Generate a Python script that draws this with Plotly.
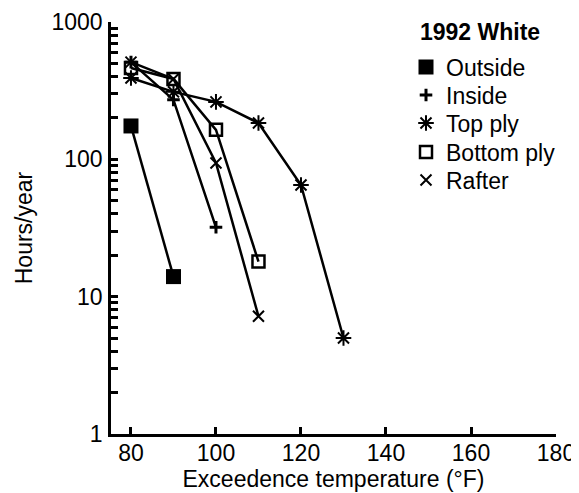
import plotly.graph_objects as go

# ---- data ----
temps_outside = [80, 90]
hours_outside = [175, 14]

temps_inside = [80, 90, 100]
hours_inside = [510, 271, 32]

temps_top = [80, 90, 100, 110, 120, 130]
hours_top = [391, 310, 262, 184, 65, 5]

temps_bottom = [80, 90, 100, 110]
hours_bottom = [463, 385, 164, 18]

temps_rafter = [80, 90, 100, 110]
hours_rafter = [510, 385, 94, 7.2]

series_names = ["Outside", "Inside", "Top ply", "Bottom ply", "Rafter"]
legend_title = "1992 White"
x_ticks = [80, 100, 120, 140, 160, 180]
y_decades = [1, 10, 100, 1000]

FONT = "Liberation Sans, Arial, sans-serif"
FS = 23

styles = {
    "Outside": dict(symbol="square", size=15, color="black", line=dict(width=0)),
    "Inside": dict(symbol="cross-thin-open", size=9, color="black", line=dict(width=3, color="black")),
    "Top ply": dict(symbol="asterisk-open", size=13, color="black", line=dict(width=2, color="black")),
    "Bottom ply": dict(symbol="square-open", size=12, color="black", line=dict(width=2.5, color="black")),
    "Rafter": dict(symbol="x-thin-open", size=11, color="black", line=dict(width=2, color="black")),
}

data = {
    "Outside": (temps_outside, hours_outside),
    "Inside": (temps_inside, hours_inside),
    "Top ply": (temps_top, hours_top),
    "Bottom ply": (temps_bottom, hours_bottom),
    "Rafter": (temps_rafter, hours_rafter),
}

# the page has an 8px body margin, so the figure is drawn a little smaller
W, H = 571, 485
fig = go.Figure()
for name in series_names:
    xs, ys = data[name]
    fig.add_trace(go.Scatter(
        x=xs, y=ys, mode="lines+markers", name=name, showlegend=False,
        line=dict(color="black", width=2.5),
        marker=styles[name], cliponaxis=False,
    ))

# one legend per entry so the row spacing matches the reference
legend_rows_px = [59, 87, 115, 144, 172]
legend_left_px = 398
legend_layouts = {}
for i, name in enumerate(series_names):
    key = "legend" if i == 0 else f"legend{i + 1}"
    fig.add_trace(go.Scatter(
        x=[None], y=[None], mode="markers", name=name, showlegend=True,
        marker=styles[name], legend=key,
    ))
    legend_layouts[key] = dict(
        xref="container", yref="container",
        x=legend_left_px / W, y=1 - legend_rows_px[i] / H,
        xanchor="left", yanchor="middle",
        font=dict(size=FS, family=FONT, color="black"),
        bgcolor="rgba(0,0,0,0)", borderwidth=0, itemwidth=30,
    )

# y ticks: every 1..9 per decade, labels only at decades
y_tickvals = []
y_ticktext = []
for d in y_decades[:-1]:
    for k in range(1, 10):
        y_tickvals.append(d * k)
        y_ticktext.append(str(d) if k == 1 else "")
y_tickvals.append(y_decades[-1])
y_ticktext.append(str(y_decades[-1]))

ML, MR, MT, MB = 103, 23, 14, 59
fig.update_layout(
    width=W, height=H,
    margin=dict(l=ML, r=MR, t=MT, b=MB, autoexpand=False),
    paper_bgcolor="white", plot_bgcolor="white",
    font=dict(family=FONT, size=FS, color="black"),
    xaxis=dict(
        range=[75.3, 180], tickvals=x_ticks, automargin=False,
        showline=True, linecolor="black", linewidth=2.5,
        ticks="inside", ticklen=7, tickwidth=2.5, tickcolor="black",
        showgrid=False, zeroline=False,
        title=dict(text="Exceedence temperature (°F)", standoff=0, font=dict(size=FS)),
        tickfont=dict(size=FS), ticklabelstandoff=-3,
    ),
    yaxis=dict(
        type="log", range=[0, 3], automargin=False,
        tickvals=y_tickvals, ticktext=y_ticktext,
        showline=True, linecolor="black", linewidth=2.5,
        ticks="inside", ticklen=7, tickwidth=2.5, tickcolor="black",
        showgrid=False, zeroline=False,
        title=dict(text="Hours/year", standoff=13, font=dict(size=FS)),
        tickfont=dict(size=FS), ticklabelstandoff=1,
    ),
    annotations=[dict(
        text=f"<b>{legend_title}</b>", xref="paper", yref="paper",
        x=(410 - ML) / (W - ML - MR), y=(H - MB - 24) / (H - MT - MB),
        xanchor="left", yanchor="middle", showarrow=False,
        font=dict(size=FS, family=FONT, color="black"),
    )],
    **legend_layouts,
)

fig.write_html("out.html")
